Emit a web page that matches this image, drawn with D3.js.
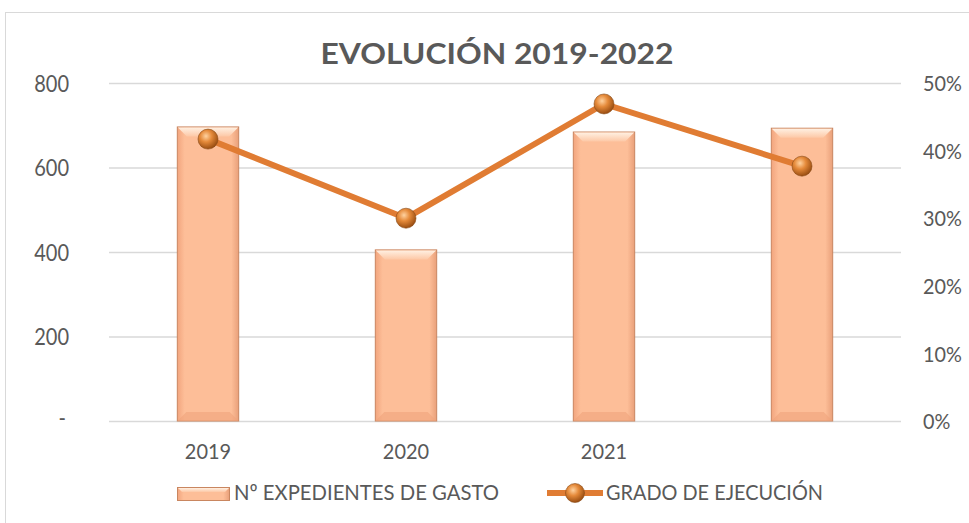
<!DOCTYPE html>
<html><head><meta charset="utf-8">
<script src="https://cdn.jsdelivr.net/npm/d3@7"></script>
<style>body{margin:0;background:#fff}svg{display:block}text{font-family:Lato,"Open Sans",sans-serif}</style>
</head><body>
<svg id="c" width="969" height="523"></svg>
<script>
const categories = ["2019","2020","2021",""];
const expedientes = [696, 405, 684, 693];
const grado = [0.417, 0.300, 0.469, 0.377];
const leftTicks = [0,200,400,600,800];
const rightTicks = [0,0.1,0.2,0.3,0.4,0.5];

const svg = d3.select("#c");
const defs = svg.append("defs");
const rg = defs.append("radialGradient").attr("id","ball").attr("cx","40%").attr("cy","35%").attr("r","65%");
rg.append("stop").attr("offset","0%").attr("stop-color","#FFD2A0");
rg.append("stop").attr("offset","45%").attr("stop-color","#E58A3A");
rg.append("stop").attr("offset","100%").attr("stop-color","#9A4E12");
const bg = defs.append("linearGradient").attr("id","barg").attr("x1","0").attr("x2","1");
bg.append("stop").attr("offset","0%").attr("stop-color","#F2A57E");
bg.append("stop").attr("offset","12%").attr("stop-color","#FDBE98");
bg.append("stop").attr("offset","88%").attr("stop-color","#FDBE98");
bg.append("stop").attr("offset","100%").attr("stop-color","#E9A07A");
const tg = defs.append("linearGradient").attr("id","topg").attr("x1","0").attr("x2","0").attr("y1","0").attr("y2","1");
tg.append("stop").attr("offset","0%").attr("stop-color","#FFF0E2");
tg.append("stop").attr("offset","100%").attr("stop-color","#FDC8A6");

svg.append("rect").attr("x",5.5).attr("y",12.5).attr("width",975).attr("height",520)
  .attr("fill","#fff").attr("stroke","#D9D9D9");

const L=109, R=901, T=83, B=421;
const x = d3.scaleBand().domain(categories.map((c,i)=>i)).range([L,R]).paddingInner(0.69).paddingOuter(0.345);
const y = d3.scaleLinear().domain([0,800]).range([B,T]);
const y2 = d3.scaleLinear().domain([0,0.5]).range([B,T]);

function squeeze(sel, factor){
  sel.each(function(){
    const n=this.getComputedTextLength();
    if(n>0) d3.select(this).attr("textLength",n*factor).attr("lengthAdjust","spacingAndGlyphs");
  });
}

svg.append("g").selectAll("line").data(leftTicks).join("line")
  .attr("x1",L).attr("x2",R).attr("y1",d=>y(d)+0.5).attr("y2",d=>y(d)+0.5)
  .attr("stroke","#D9D9D9").attr("stroke-width",1.3);

const gl = svg.append("g").attr("transform",`translate(${L-40},0)`)
  .call(d3.axisLeft(y).tickValues(leftTicks).tickSize(0).tickPadding(0).tickFormat(d=>d===0?"-":d));
gl.select(".domain").remove();
gl.selectAll("text").attr("fill","#595959").style("font-size","23px").attr("dy","0.35em");
gl.selectAll(".tick").filter(d=>d===0).select("text").attr("dy","0.2em").attr("dx","-3px");
squeeze(gl.selectAll("text"),0.87);

const gr = svg.append("g").attr("transform",`translate(${R+22},0)`)
  .call(d3.axisRight(y2).tickValues(rightTicks).tickSize(0).tickPadding(0).tickFormat(d3.format(".0%")));
gr.select(".domain").remove();
gr.selectAll("text").attr("fill","#595959").style("font-size","22px").attr("dy","0.35em");
squeeze(gr.selectAll("text"),0.9);

const gb = svg.append("g").attr("transform",`translate(0,${B+38})`)
  .call(d3.axisBottom(x).tickSize(0).tickPadding(0).tickFormat(i=>categories[i]));
gb.select(".domain").remove();
gb.selectAll("text").attr("fill","#595959").style("font-size","21px").attr("dy","0");
squeeze(gb.selectAll("text"),0.95);

const bars = svg.append("g").selectAll("g").data(expedientes).join("g");
const bw = x.bandwidth(), bev=9;
bars.append("rect").attr("x",(d,i)=>x(i)).attr("y",d=>y(d)).attr("width",bw).attr("height",d=>B-y(d))
  .attr("fill","url(#barg)").attr("stroke","#C98660").attr("stroke-width",1);
bars.append("path").attr("d",(d,i)=>{const x0=x(i)+0.5,y0=y(d)+0.5,w=bw-1;return `M${x0},${y0}L${x0+w},${y0}L${x0+w-bev},${y0+bev}L${x0+bev},${y0+bev}Z`;})
  .attr("fill","url(#topg)");
bars.append("path").attr("d",(d,i)=>{const x0=x(i),y0=B;return `M${x0},${y0}L${x0+bw},${y0}L${x0+bw-bev},${y0-bev}L${x0+bev},${y0-bev}Z`;})
  .attr("fill","#F0A47C").attr("opacity",0.6);

const line = d3.line().x((d,i)=>x(i)+bw/2).y(d=>y2(d));
svg.append("path").datum(grado).attr("d",line).attr("fill","none").attr("stroke","#E07C33").attr("stroke-width",6);
svg.append("g").selectAll("circle").data(grado).join("circle")
  .attr("cx",(d,i)=>x(i)+bw/2).attr("cy",d=>y2(d)).attr("r",10)
  .attr("fill","url(#ball)").attr("stroke","#8A4A15").attr("stroke-width",0.6);

svg.append("text").attr("x",497).attr("y",64).attr("text-anchor","middle")
  .attr("fill","#595959").style("font-size","29px").style("font-weight","bold")
  .attr("textLength",353).attr("lengthAdjust","spacingAndGlyphs").text("EVOLUCIÓN 2019-2022");

const lg = svg.append("g");
lg.append("rect").attr("x",177.5).attr("y",487.5).attr("width",52).attr("height",13).attr("fill","url(#barg)").attr("stroke","#C98660");
lg.append("path").attr("d","M178,488L229,488L225,492L182,492Z").attr("fill","url(#topg)");
lg.append("text").attr("x",234).attr("y",500).attr("fill","#595959").style("font-size","21.5px")
  .attr("textLength",265).attr("lengthAdjust","spacingAndGlyphs").text("Nº EXPEDIENTES DE GASTO");
lg.append("line").attr("x1",547).attr("x2",603).attr("y1",493).attr("y2",493).attr("stroke","#E07C33").attr("stroke-width",6);
lg.append("circle").attr("cx",575).attr("cy",493).attr("r",9.5).attr("fill","url(#ball)").attr("stroke","#8A4A15").attr("stroke-width",0.6);
lg.append("text").attr("x",606).attr("y",500).attr("fill","#595959").style("font-size","21.5px")
  .attr("textLength",217).attr("lengthAdjust","spacingAndGlyphs").text("GRADO DE EJECUCIÓN");
</script>
</body></html>
